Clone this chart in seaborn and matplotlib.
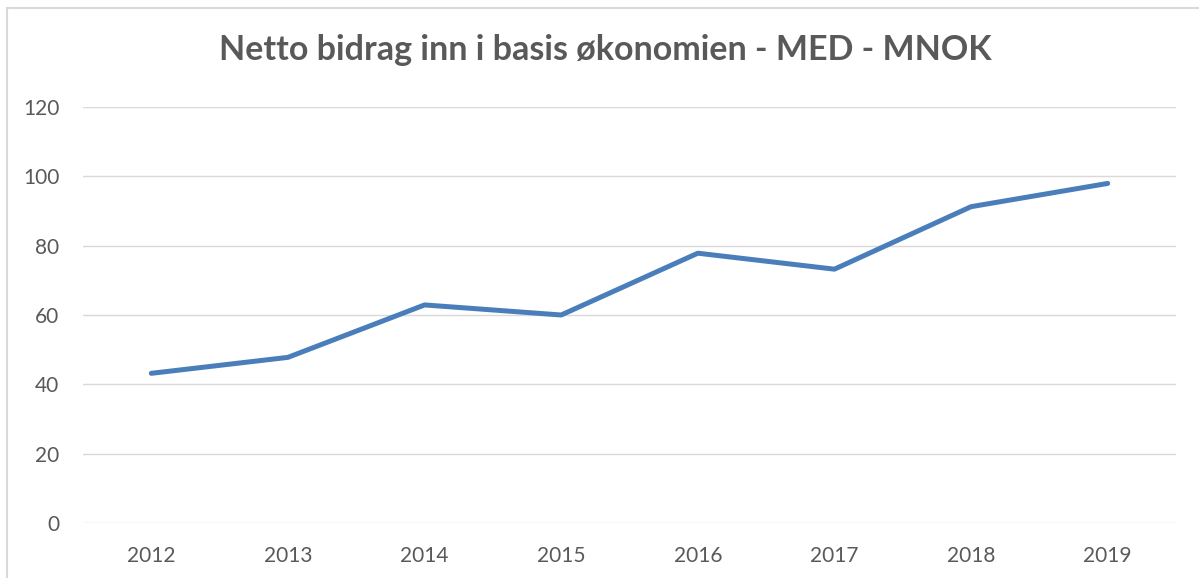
import seaborn as sns
import matplotlib.pyplot as plt
import pandas as pd
from matplotlib.patches import Rectangle

years = ["2012", "2013", "2014", "2015", "2016", "2017", "2018", "2019"]
values = [43.2, 47.8, 62.9, 60.0, 77.8, 73.2, 91.2, 97.9]
yticks = [0, 20, 40, 60, 80, 100, 120]

df = pd.DataFrame({"År": years, "MNOK": values})

sns.set_theme(style="white")
plt.rcParams["font.family"] = ["Lato", "DejaVu Sans"]

fig = plt.figure(figsize=(11.99, 5.78), dpi=100)
ax = fig.add_axes([83 / 1199, 1 - 523.3 / 578, (1176 - 83) / 1199, (523.3 - 106.7) / 578])

# grey chart frame like the Excel chart area
fig.patches.append(Rectangle((7 / 1199, -0.01), 1.1, 1 - 8 / 578 + 0.01, transform=fig.transFigure,
                             fill=False, edgecolor="#d9d9d9", linewidth=1.5))

sns.lineplot(data=df, x="År", y="MNOK", ax=ax, color="#4a7ebb", linewidth=3.6,
             solid_capstyle="round", solid_joinstyle="round")

ax.set_xlim(-0.5, 7.5)
ax.set_ylim(0, 120)
ax.set_yticks(yticks)
ax.yaxis.grid(True, color="#d9d9d9", linewidth=1)
ax.set_axisbelow(True)
sns.despine(ax=ax, left=True, bottom=True)
ax.tick_params(axis="both", length=0, labelsize=15, labelcolor="#595959")
ax.tick_params(axis="y", pad=17)
ax.tick_params(axis="x", pad=16)
ax.set_xlabel("")
ax.set_ylabel("")

fig.text(0.505, 1 - 50 / 578, "Netto bidrag inn i basis økonomien - MED - MNOK",
         ha="center", va="center", fontsize=24.5, fontweight="bold", color="#595959")

fig.savefig("out.png", dpi=100)
